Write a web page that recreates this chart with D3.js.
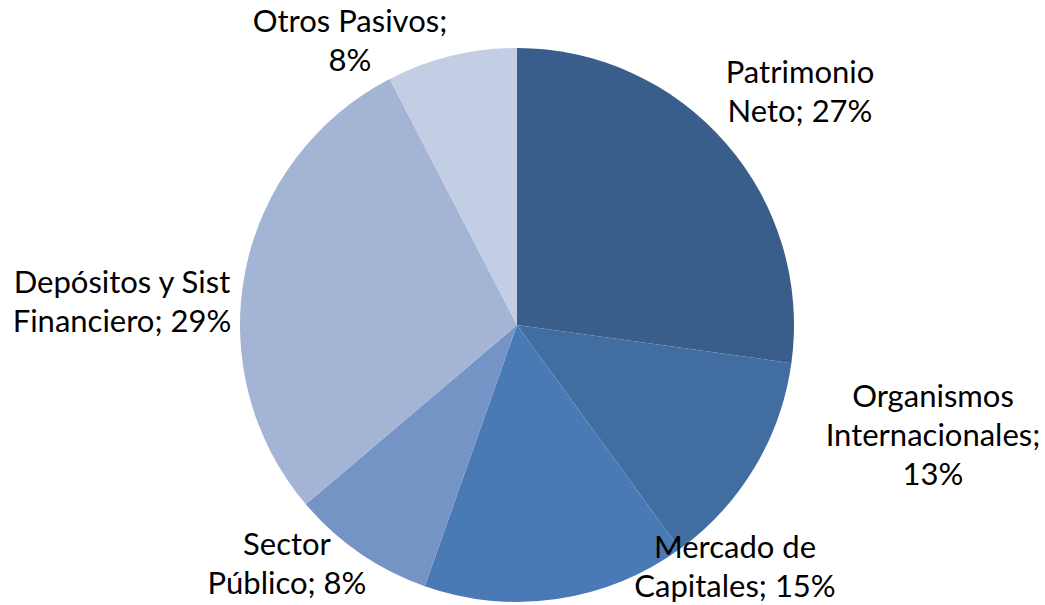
<!DOCTYPE html>
<html>
<head>
<meta charset="utf-8">
<script src="https://cdn.jsdelivr.net/npm/d3@7"></script>
<style>
  body { margin: 0; background: #fff; }
  .etiqueta { font-family: Lato, "Open Sans", sans-serif; font-size: 31px; fill: #000; }
</style>
</head>
<body>
<script>
var w = 1045, h = 605;

// composición del pasivo (%)
var categorias = ["Patrimonio Neto", "Organismos Internacionales", "Mercado de Capitales",
                  "Sector Público", "Depósitos y Sist Financiero", "Otros Pasivos"];
var valores = [27.2, 12.8, 15.4, 8.4, 28.6, 7.6];
// cortes de línea de las etiquetas
var lineas = [
  ["Patrimonio", "Neto; "],
  ["Organismos", "Internacionales;", ""],
  ["Mercado de", "Capitales; "],
  ["Sector", "Público; "],
  ["Depósitos y Sist", "Financiero; "],
  ["Otros Pasivos;", ""]
];
var colores = ["#3a5e8c", "#426da1", "#4a7ab5", "#7594c6", "#a3b4d5", "#c3cde3"];

var cx = 517, cy = 325, radio = 277, interlinea = 39;
// posición de cada etiqueta (centro, primera línea base) respecto al centro
var posEtiqueta = [[283, -242], [416, 82], [218, 233], [-230, 230], [-395, -32], [-167, -293]];

var total = d3.sum(valores);

var svg = d3.select("body").append("svg")
    .attr("width", w)
    .attr("height", h);

var pie = d3.pie().sort(null).value(function(d) { return d; });
var arc = d3.arc().innerRadius(0).outerRadius(radio);

var g = svg.append("g")
    .attr("transform", "translate(" + cx + "," + cy + ")");

g.selectAll("path")
    .data(pie(valores))
    .enter()
    .append("path")
    .attr("d", arc)
    .style("fill", function(d, i) { return colores[i]; });

var etiquetas = g.selectAll("text")
    .data(categorias)
    .enter()
    .append("text")
    .attr("class", "etiqueta")
    .attr("text-anchor", "middle")
    .attr("x", function(d, i) { return posEtiqueta[i][0]; })
    .attr("y", function(d, i) { return posEtiqueta[i][1]; });

etiquetas.each(function(d, i) {
    var pct = Math.round(100 * valores[i] / total) + "%";
    var t = d3.select(this);
    var ls = lineas[i];
    ls.forEach(function(l, j) {
        var txt = (j == ls.length - 1) ? (l + pct) : l;
        t.append("tspan")
            .attr("x", posEtiqueta[i][0])
            .attr("dy", j == 0 ? 0 : interlinea)
            .text(txt);
    });
});
</script>
</body>
</html>
